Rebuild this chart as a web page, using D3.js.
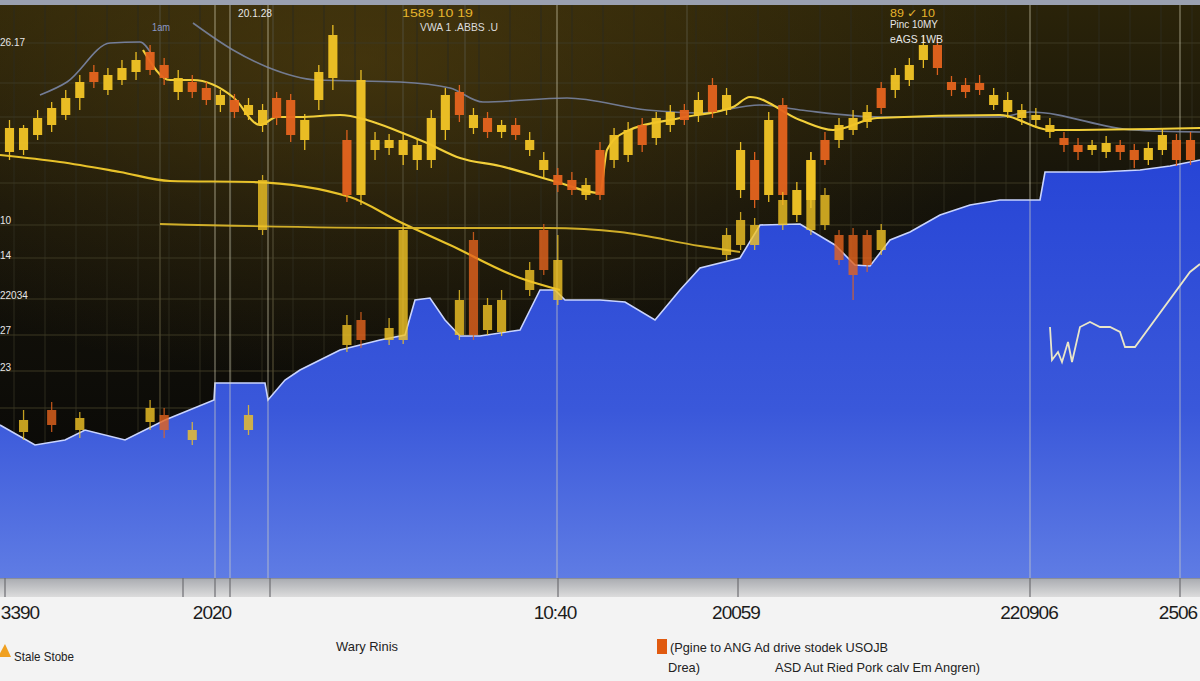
<!DOCTYPE html>
<html><head><meta charset="utf-8">
<script src="https://cdn.jsdelivr.net/npm/d3@7"></script>
<style>html,body{margin:0;padding:0;background:#f3f3f3;overflow:hidden}svg{display:block}</style>
</head><body><svg id="c" width="1200" height="681"></svg>
<script>
// ---------- DATA ----------
// main candle series (session index 0..84)
const opens  = [428,430,445,455,465,482,508,490,500,508, 528,515,488,498,492,475,480,465,455,482, 480,440,480,502,440,385,430,432,425,420, 420,450,488,452,462,448,455,430,410,405, 400,385,430,420,425,455,442,455,470,465, 495,470,390,420,385,475,365,380,440,440, 450,458,492,490,500,520,535,498,495,497, 475,468,462,460,448,442,435,430,428,435, 430,420,430,440,440];
const closes = [452,452,462,472,482,498,498,505,512,520, 510,502,502,488,480,485,468,475,470,462, 445,460,508,545,385,500,440,440,440,435, 462,485,465,465,448,455,445,440,420,395, 390,395,385,445,450,435,462,468,460,480, 468,485,430,380,460,385,390,420,420,455, 462,468,472,505,515,535,512,490,488,490, 485,480,470,465,455,435,428,435,437,428, 420,432,445,420,420];
const highs  = [460,455,470,478,490,505,515,512,520,528, 535,522,510,505,498,490,486,482,476,488, 486,466,515,555,450,510,448,446,448,442, 470,492,495,472,468,460,462,448,428,412, 408,402,438,452,458,462,468,475,476,488, 502,492,438,428,468,482,398,428,448,462, 470,475,498,512,522,545,542,504,502,505, 492,488,476,472,462,448,442,440,444,440, 436,438,452,446,448];
const lows   = [420,425,440,448,460,470,492,485,495,500, 505,495,480,482,475,468,462,460,448,455, 438,430,470,490,378,375,420,425,415,410, 412,440,458,446,442,442,440,424,402,388, 385,380,380,412,418,428,435,448,455,458, 462,465,382,372,378,375,358,372,415,432, 445,452,466,482,494,512,505,484,482,485, 470,462,455,452,442,428,420,425,422,420, 412,415,425,414,415];

// secondary (lower) candle series
const lowIdx   = [1,3,5,10,11,13,17,18,24,25,27,28,32,33,34,35,37,38,39,51,52,53,55,57,58,59,60,61,62];
const lowOpen  = [148,170,150,158,165,140,150,350,235,260,240,240,245,340,250,248,290,350,280,325,335,335,355,350,355,345,345,345,330];
const lowClose = [160,155,162,172,150,150,165,400,255,240,252,350,280,245,275,280,310,310,320,345,360,355,380,420,385,320,305,315,350];
const lowHigh  = [170,178,168,180,172,158,175,405,265,268,262,356,290,348,282,290,318,356,345,352,368,362,388,428,392,350,352,350,356];
const lowLow   = [140,148,142,150,142,135,145,345,228,232,235,236,240,240,245,244,284,305,275,320,330,330,350,345,350,315,280,308,325];

// blue area series (time units)
const areaT = [0,35,65,85,125,165,214,215,265,268,285,300,320,340,380,405,415,430,445,460,480,520,540,555,565,600,625,655,680,700,740,760,800,835,855,870,890,910,940,970,1000,1040,1045,1100,1140,1170,1200];
const areaV = [155,135,140,150,140,160,180,197,197,180,200,210,220,230,240,245,280,282,260,244,244,250,290,290,280,280,278,260,290,312,322,355,356,335,315,314,340,348,365,375,380,380,408,408,410,414,420];

// moving-average style lines
const maSlowT = [0,60,120,170,253,350,400,450,520,560];
const maSlowV = [425,418,408,399,398,383,358,335,302,290];
const maFlatT = [160,400,548,620,700,740];
const maFlatV = [356,352,352,348,334,328];
const maFastT = [143,170,193,233,260,277,300,340,367,400,427,460,500,557,600,607,625,680,733,750,800,833,877,1000,1050,1200];
const maFastV = [530,500,500,483,455,463,463,465,460,448,437,422,414,398,387,430,448,462,473,483,460,450,462,465,450,452];
const gray1T = [40,67,110,140,152];
const gray1V = [485,498,537,538,525];
const gray2T = [193,233,267,317,400,450,483,567,647,700,760,800,880,1000,1030,1133,1200];
const gray2V = [557,530,513,500,498,492,478,482,470,467,475,470,463,463,468,450,448];
const whiteT = [1050,1052,1058,1062,1068,1072,1080,1090,1100,1110,1120,1125,1135,1190,1200];
const whiteV = [253,220,228,218,238,218,253,258,253,253,248,233,233,308,316];

// axis texts
const yTickV = [538,360,325,285,250,213];
const yTickLabels = ["26.17","10","14","22034","27","23"];
const xTickT = [20,212,555,736,1029,1178];
const xTickLabels = ["3390","2020","10:40","20059","220906","2506"];
const gridV = [537,497,463,437,397,355,322,281,245,209,172,135];
const majorT = [215,230,268,557,1030,1180];
const darkMajorT = [160,273,403,465,687];
const bandTickT = [5,183,215,230,270,558,738,1030,1180];

// ---------- CHART ----------
const svg = d3.select('#c');
const x = d3.scaleLinear().domain([0,1200]).range([0,1200]);
const xb = d3.scaleBand().domain(d3.range(85)).range([0,1200]).padding(0.35);
const y = d3.scaleLinear().domain([0,580]).range([580,0]);
const plotTop = 5, plotBottom = 578;

const defs = svg.append('defs');
const bg = defs.append('linearGradient').attr('id','bg').attr('x1',0).attr('y1',0).attr('x2',0).attr('y2',1);
bg.append('stop').attr('offset','0%').attr('stop-color','#2a2309');
bg.append('stop').attr('offset','35%').attr('stop-color','#15130a');
bg.append('stop').attr('offset','100%').attr('stop-color','#060606');
const glow = defs.append('radialGradient').attr('id','glow').attr('cx','30%').attr('cy','10%').attr('r','55%');
glow.append('stop').attr('offset','0%').attr('stop-color','#5a4510').attr('stop-opacity',0.55);
glow.append('stop').attr('offset','100%').attr('stop-color','#5a4510').attr('stop-opacity',0);
const ag = defs.append('linearGradient').attr('id','ag').attr('gradientUnits','userSpaceOnUse').attr('x1',0).attr('y1',160).attr('x2',0).attr('y2',578);
ag.append('stop').attr('offset','0%').attr('stop-color','#2745d6');
ag.append('stop').attr('offset','60%').attr('stop-color','#3a58da');
ag.append('stop').attr('offset','100%').attr('stop-color','#5f7ce4');
const band = defs.append('linearGradient').attr('id','band').attr('x1',0).attr('y1',0).attr('x2',0).attr('y2',1);
band.append('stop').attr('offset','0%').attr('stop-color','#a9abb0');
band.append('stop').attr('offset','100%').attr('stop-color','#dcdcdc');
defs.append('clipPath').attr('id','clip').append('rect').attr('x',0).attr('y',plotTop).attr('width',1200).attr('height',plotBottom-plotTop);

// page below
svg.append('rect').attr('x',0).attr('y',0).attr('width',1200).attr('height',681).attr('fill','#f3f3f3');
// top strip
svg.append('rect').attr('x',0).attr('y',0).attr('width',1200).attr('height',plotTop).attr('fill','#9aa0b0');

const plot = svg.append('g').attr('clip-path','url(#clip)');
plot.append('rect').attr('x',0).attr('y',plotTop).attr('width',1200).attr('height',plotBottom-plotTop).attr('fill','url(#bg)');
plot.append('rect').attr('x',0).attr('y',plotTop).attr('width',1200).attr('height',plotBottom-plotTop).attr('fill','url(#glow)');

// minor vertical grid
plot.append('g').selectAll('line').data(d3.range(14,1200,31)).join('line')
  .attr('x1',d=>x(d)).attr('x2',d=>x(d)).attr('y1',plotTop).attr('y2',plotBottom)
  .attr('stroke','#2c2a1c').attr('stroke-width',1);
// horizontal grid
plot.append('g').selectAll('line').data(gridV).join('line')
  .attr('x1',0).attr('x2',1200).attr('y1',d=>y(d)).attr('y2',d=>y(d))
  .attr('stroke','#3d3822').attr('stroke-width',1.2);
// dark-region major verticals
plot.append('g').selectAll('line').data(darkMajorT).join('line')
  .attr('x1',d=>x(d)).attr('x2',d=>x(d)).attr('y1',plotTop).attr('y2',plotBottom)
  .attr('stroke','#4d4830').attr('stroke-width',1.3);

// area
const area = d3.area().x((d,i)=>x(areaT[i])).y0(y(0)).y1(d=>y(d));
const aline = d3.line().x((d,i)=>x(areaT[i])).y(d=>y(d));
plot.append('path').datum(areaV).attr('d',area).attr('fill','url(#ag)');
plot.append('path').datum(areaV).attr('d',aline).attr('fill','none').attr('stroke','#c9d4ff').attr('stroke-width',1.6);

// major verticals (through area)
plot.append('g').selectAll('line').data(majorT).join('line')
  .attr('x1',d=>x(d)).attr('x2',d=>x(d)).attr('y1',plotTop).attr('y2',plotBottom)
  .attr('stroke','rgba(225,220,190,0.45)').attr('stroke-width',1.4);

// lines
function drawLine(T,V,color,w,op){
  const l = d3.line().curve(d3.curveMonotoneX).x((d,i)=>x(T[i])).y(d=>y(d));
  plot.append('path').datum(V).attr('d',l).attr('fill','none').attr('stroke',color).attr('stroke-width',w).attr('opacity',op);
}
drawLine(gray1T,gray1V,'#7f8cb0',1.6,0.85);
drawLine(gray2T,gray2V,'#7d88a8',1.6,0.85);
drawLine(maSlowT,maSlowV,'#e8c22a',2.2,1);
drawLine(maFlatT,maFlatV,'#d9b52a',1.8,0.95);
drawLine(maFastT,maFastV,'#f2cf3a',2.2,1);

// candles
const UP='#f3c526', DN='#e5641e';
function drawCandles(data, opacity){
  const g = plot.append('g').attr('opacity',opacity);
  g.selectAll('line').data(data).join('line')
    .attr('x1',d=>xb(d.i)+xb.bandwidth()/2).attr('x2',d=>xb(d.i)+xb.bandwidth()/2)
    .attr('y1',d=>y(d.h)).attr('y2',d=>y(d.l))
    .attr('stroke',d=>d.c>=d.o?UP:DN).attr('stroke-width',1.3);
  g.selectAll('rect').data(data).join('rect')
    .attr('x',d=>xb(d.i)).attr('width',xb.bandwidth())
    .attr('y',d=>y(Math.max(d.o,d.c))).attr('height',d=>Math.max(1.5,Math.abs(y(d.o)-y(d.c))))
    .attr('fill',d=>d.c>=d.o?UP:DN);
}
drawCandles(d3.range(85).map(i=>({i,o:opens[i],c:closes[i],h:highs[i],l:lows[i]})),0.95);
drawCandles(lowIdx.map((i,k)=>({i,o:lowOpen[k],c:lowClose[k],h:lowHigh[k],l:lowLow[k]})),0.8);

// white squiggle line
const wl = d3.line().x((d,i)=>x(whiteT[i])).y(d=>y(d));
plot.append('path').datum(whiteV).attr('d',wl).attr('fill','none').attr('stroke','#e9e6c8').attr('stroke-width',1.8);

// y tick labels
plot.append('g').selectAll('text').data(yTickV).join('text')
  .attr('x',0).attr('y',d=>y(d)+4).text((d,i)=>yTickLabels[i])
  .attr('fill','#e6e6e6').attr('font-family','Liberation Sans, Arial, sans-serif').attr('font-size',10);

// top annotation texts
const ann = [
  {t:"20.1.28",x:238,y:17,c:'#e8e8e8',l:34},
  {t:"1am",x:152,y:31,c:'#8a98c8',l:18},
  {t:"1589 10 19",x:402,y:17,c:'#e6b52c',l:71},
  {t:"VWA 1 .ABBS .U",x:420,y:31,c:'#dcdcdc',l:78},
  {t:"89 ✓ 10",x:890,y:17,c:'#e6b52c',l:45},
  {t:"Pinc 10MY",x:890,y:28,c:'#e8e8e8',l:48},
  {t:"eAGS 1WB",x:890,y:43,c:'#e8e8e8',l:53}
];
svg.append('g').selectAll('text').data(ann).join('text')
  .attr('x',d=>d.x).attr('y',d=>d.y).text(d=>d.t).attr('fill',d=>d.c)
  .attr('textLength',d=>d.l).attr('lengthAdjust','spacingAndGlyphs')
  .attr('font-family','Liberation Sans, Arial, sans-serif').attr('font-size',11);

// axis band
svg.append('rect').attr('x',0).attr('y',plotBottom).attr('width',1200).attr('height',19).attr('fill','url(#band)');
svg.append('line').attr('x1',0).attr('x2',1200).attr('y1',plotBottom+0.5).attr('y2',plotBottom+0.5).attr('stroke','#8c8f98').attr('stroke-width',1.2);
svg.append('g').selectAll('line').data(bandTickT).join('line')
  .attr('x1',d=>x(d)).attr('x2',d=>x(d)).attr('y1',plotBottom).attr('y2',plotBottom+19)
  .attr('stroke','#6e6e72').attr('stroke-width',1.2);

// x tick labels
svg.append('g').selectAll('text').data(xTickT).join('text')
  .attr('x',d=>x(d)).attr('y',619).attr('text-anchor','middle').text((d,i)=>xTickLabels[i])
  .attr('fill','#1c1c1c').attr('font-family','Liberation Sans, Arial, sans-serif').attr('font-size',19).attr('letter-spacing',-1);

// legend
const lg = svg.append('g').attr('font-family','Liberation Sans, Arial, sans-serif').attr('font-size',13).attr('fill','#222');
lg.append('path').attr('d','M-2,657 L5,644 L11,657 Z').attr('fill','#f0a020');
lg.append('text').attr('x',14).attr('y',661).text('Stale Stobe').attr('textLength',60).attr('lengthAdjust','spacingAndGlyphs');
lg.append('text').attr('x',336).attr('y',651).text('Wary Rinis').attr('textLength',62).attr('lengthAdjust','spacingAndGlyphs');
lg.append('rect').attr('x',657).attr('y',639).attr('width',10).attr('height',15).attr('fill','#e05a10');
lg.append('text').attr('x',670).attr('y',652).text('(Pgine to ANG Ad drive stodek USOJB').attr('textLength',218).attr('lengthAdjust','spacingAndGlyphs');
lg.append('text').attr('x',668).attr('y',672).text('Drea)').attr('textLength',32).attr('lengthAdjust','spacingAndGlyphs');
lg.append('text').attr('x',775).attr('y',672).text('ASD Aut Ried Pork calv Em Angren)').attr('textLength',205).attr('lengthAdjust','spacingAndGlyphs');
</script></body></html>
